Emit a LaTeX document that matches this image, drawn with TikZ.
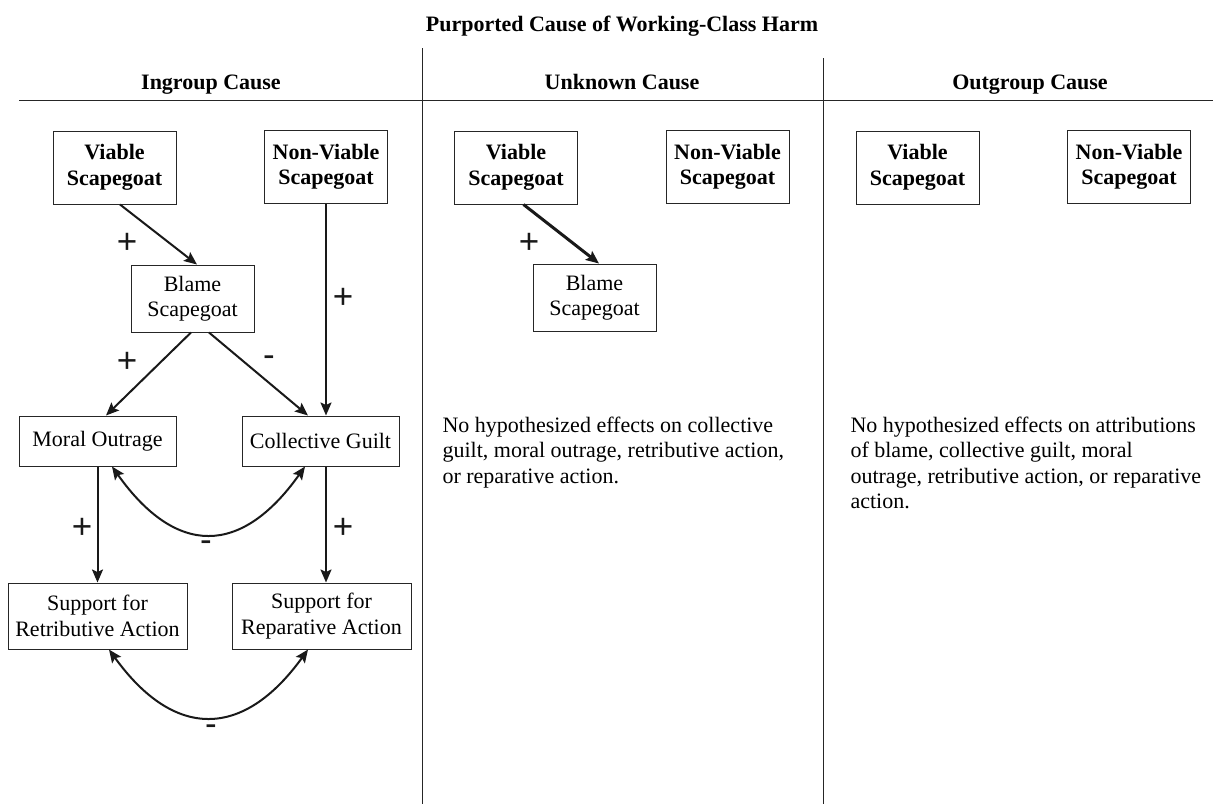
\documentclass[tikz,border=0pt]{standalone}
\usepackage{fontspec}
\setmainfont{Liberation Serif}
\newfontfamily\signfont{Liberation Sans}
\usetikzlibrary{arrows.meta}

\begin{document}
\begin{tikzpicture}[x=1pt,y=-1pt,
	every node/.style={font=\fontsize{22}{25.5}\selectfont, align=center},
	sbox/.style={draw=black!85, line width=1pt, inner sep=0pt, minimum width=#1},
	arr/.style={line width=2pt, black!90, -{Stealth[length=13pt,width=11pt,inset=2.5pt]}},
	dbl/.style={line width=2pt, black!90, {Stealth[length=13pt,width=11pt,inset=2.5pt]}-{Stealth[length=13pt,width=11pt,inset=2.5pt]}},
	sign/.style={font=\signfont\fontsize{35}{35}\selectfont, inner sep=0pt, black!90},
	rule/.style={line width=1pt, black!85}]
\pgfmathsetmacro{\panelw}{401.5}
\pgfmathsetmacro{\sgw}{123}
\pgfmathsetmacro{\sgh}{73}

\useasboundingbox (0,0) rectangle (1213,804);

% frame
\draw[rule] (19,100) -- (1213,100);
\draw[rule] (422,48) -- (422,804);
\draw[rule] (823,58) -- (823,804);
\node[anchor=base] (title) at (622,31) {\bfseries Purported Cause of Working-Class Harm};
\node[anchor=base] (hin) at (211,89) {\bfseries Ingroup Cause};
\node[anchor=base] (hun) at (622,89) {\bfseries Unknown Cause};
\node[anchor=base] (hout) at (1030,89) {\bfseries Outgroup Cause};

% scapegoat boxes, one pair per panel
\foreach \i/\p in {0/in, 1/un, 2/out}{
	\node[sbox=\sgw, minimum height=\sgh] (vs\p) at (114.5 + \i*\panelw, 167.5) {\bfseries Viable\\\bfseries Scapegoat};
	\node[sbox=\sgw, minimum height=\sgh] (nv\p) at (326 + \i*\panelw, 167) {\bfseries Non-Viable\\\bfseries Scapegoat};
}

% ingroup panel
\node[sbox=123, minimum height=67] (bsin) at (192.5,298.5) {Blame\\Scapegoat};
\node[sbox=157, minimum height=50] (mo) at (97.5,441) {Moral Outrage};
\node[sbox=157, minimum height=50] (cg) at (320.5,441) {Collective Guilt};
\node[sbox=179, minimum height=66] (ret) at (97.5,616) {Support for\\Retributive Action};
\node[sbox=179, minimum height=66] (rep) at (321.5,616) {Support for\\Reparative Action};

\draw[arr] ([xshift=5.5pt]vsin.south) -- ([xshift=4.5pt]bsin.north);
\draw[arr] (nvin.south) -- (nvin.south |- cg.north);
\draw[arr] ([xshift=-1.5pt]bsin.south) -- ([xshift=8.5pt]mo.north);
\draw[arr] ([xshift=16.5pt]bsin.south) -- ([xshift=-12.5pt]cg.north);
\draw[arr] (mo.south) -- (ret.north);
\draw[arr] (cg.south -| nvin.south) -- (rep.north -| nvin.south);
\draw[dbl] ([xshift=14.5pt]mo.south) .. controls +(64,90) and +(-64,90) .. ([xshift=-15.5pt]cg.south);
\draw[dbl] ([xshift=11.5pt]ret.south) .. controls +(65,90) and +(-65,90) .. ([xshift=-13.5pt]rep.south);

\node[sign] (p1) at (127,243) {+};
\node[sign] (p2) at (343,298) {+};
\node[sign] (p3) at (127,362) {+};
\node[sign] (m1) at (269,361) {-};
\node[sign] (p4) at (82,528) {+};
\node[sign] (p5) at (343,528) {+};
\node[sign] (m2) at (206,546) {-};
\node[sign] (m3) at (211,730) {-};

% unknown panel
\node[sbox=123, minimum height=67] (bsun) at (594.5,297.5) {Blame\\Scapegoat};
\draw[arr, line width=3pt] ([xshift=7.5pt]vsun.south) -- ([xshift=4.5pt]bsun.north);
\node[sign] (p6) at (529,243) {+};
\node[anchor=north west, align=left] (txun) at (439,413) {No hypothesized effects on collective\\guilt, moral outrage, retributive action,\\or reparative action.};

% outgroup panel
\node[anchor=north west, align=left] (txout) at (847,413) {No hypothesized effects on attributions\\of blame, collective guilt, moral\\outrage, retributive action, or reparative\\action.};

\end{tikzpicture}
\end{document}
